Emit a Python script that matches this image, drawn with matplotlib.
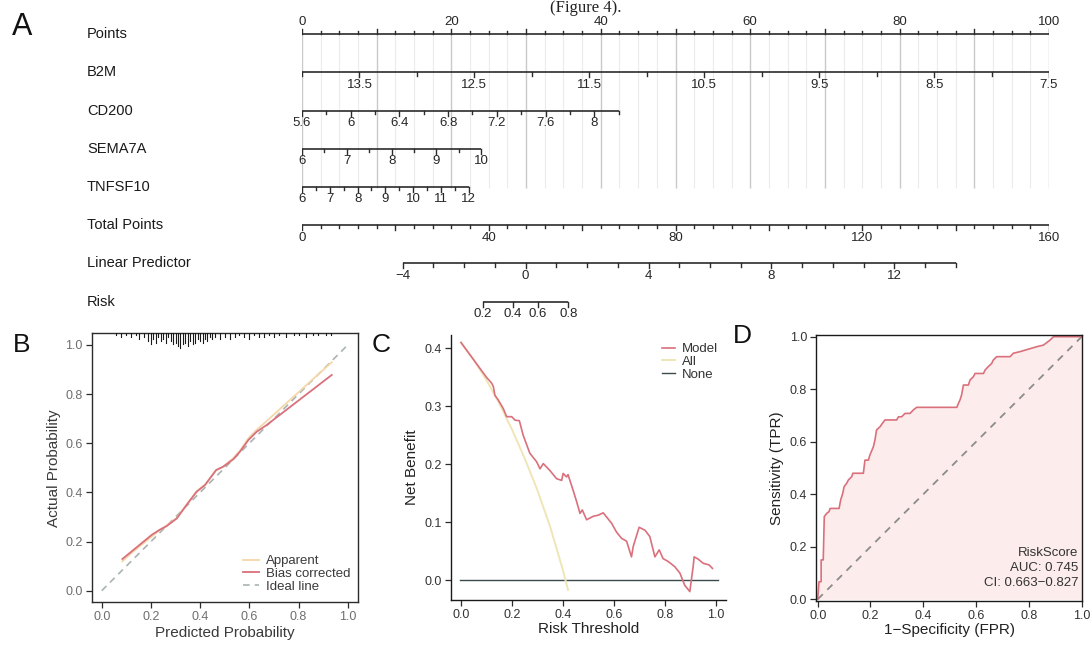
import numpy as np
import matplotlib.pyplot as plt
import matplotlib.transforms as mtransforms

plt.rcParams['font.family'] = ['Liberation Sans', 'DejaVu Sans']

# ---------------- nomogram (A) ----------------
row_names = ['Points', 'B2M', 'CD200', 'SEMA7A', 'TNFSF10',
             'Total Points', 'Linear Predictor', 'Risk']

points_ticks = np.arange(0, 100.01, 2.5)
points_labels = [0, 20, 40, 60, 80, 100]

b2m_ticks = np.arange(14, 7.49, -0.5)
b2m_labels = [13.5, 12.5, 11.5, 10.5, 9.5, 8.5, 7.5]
b2m_ref, b2m_ppu = 14.0, -100 / 6.5

cd200_ticks = np.arange(5.6, 8.21, 0.2)
cd200_labels = [5.6, 6, 6.4, 6.8, 7.2, 7.6, 8]
cd200_ref, cd200_ppu = 5.6, 16.3

sema7a_ticks = np.arange(6, 10.01, 0.5)
sema7a_labels = [6, 7, 8, 9, 10]
sema7a_ref, sema7a_ppu = 6.0, 6.0

tnfsf10_ticks = np.arange(6, 12.01, 0.5)
tnfsf10_labels = [6, 7, 8, 9, 10, 11, 12]
tnfsf10_ref, tnfsf10_ppu = 6.0, 3.72

total_ticks = np.arange(0, 160.01, 4)
total_labels = [0, 40, 80, 120, 160]
total_max = 160

lp_ticks = np.arange(-4, 14.01, 1)
lp_labels = [-4, 0, 4, 8, 12]
lp_tp_at_zero, lp_tp_per_unit = 47.9, 6.58

risk_ticks = [0.2, 0.4, 0.6, 0.8]

# ---------------- calibration (B) ----------------
cal_pred = [0.084, 0.129, 0.203, 0.234, 0.264, 0.305, 0.345, 0.386, 0.42,
            0.465, 0.494, 0.535, 0.562, 0.596, 0.63, 0.67, 0.935]
cal_bias = [0.129, 0.166, 0.227, 0.247, 0.263, 0.294, 0.349, 0.403, 0.43,
            0.491, 0.505, 0.535, 0.566, 0.613, 0.647, 0.674, 0.878]
cal_apparent = [0.12, 0.16, 0.22, 0.245, 0.265, 0.296, 0.35, 0.405, 0.432,
                0.49, 0.505, 0.54, 0.57, 0.62, 0.655, 0.69, 0.93]
rug_x = [0.06, 0.08, 0.10, 0.12, 0.14, 0.15, 0.17, 0.19, 0.20, 0.21, 0.22,
         0.23, 0.24, 0.25, 0.26, 0.27, 0.28, 0.29, 0.30, 0.31, 0.32, 0.33,
         0.34, 0.35, 0.36, 0.37, 0.38, 0.39, 0.40, 0.41, 0.42, 0.43, 0.44,
         0.45, 0.46, 0.48, 0.50, 0.52, 0.54, 0.56, 0.58, 0.60, 0.62, 0.64,
         0.66, 0.68, 0.70, 0.72, 0.75, 0.78, 0.80, 0.83, 0.86, 0.88, 0.91, 0.93]
rug_n = [1, 2, 1, 2, 1, 3, 2, 4, 6, 3, 5, 2, 4, 3, 5, 2, 4, 6, 5, 7, 8, 6,
         5, 7, 4, 6, 5, 3, 4, 5, 3, 4, 2, 3, 2, 3, 2, 3, 2, 1, 2, 3, 1, 2,
         2, 1, 2, 1, 2, 1, 1, 2, 1, 1, 1, 1]

# ---------------- decision curve (C) ----------------
dca_all_t = [0.0, 0.05, 0.1, 0.15, 0.2, 0.25, 0.3, 0.35, 0.4, 0.42]
dca_all_nb = [0.41, 0.38, 0.345, 0.305, 0.26, 0.21, 0.155, 0.092, 0.017, -0.017]
dca_model_t = [0.0, 0.05, 0.1, 0.12, 0.127, 0.133, 0.146, 0.166, 0.179, 0.199,
               0.212, 0.229, 0.244, 0.27, 0.297, 0.31, 0.323, 0.349, 0.375,
               0.395, 0.401, 0.414, 0.42, 0.44, 0.454, 0.467, 0.476, 0.493,
               0.519, 0.539, 0.558, 0.571, 0.591, 0.61, 0.63, 0.65, 0.669,
               0.676, 0.699, 0.722, 0.741, 0.761, 0.778, 0.793, 0.813, 0.839,
               0.859, 0.878, 0.898, 0.911, 0.915, 0.931, 0.95, 0.974, 0.987]
dca_model_nb = [0.41, 0.38, 0.35, 0.34, 0.334, 0.319, 0.311, 0.296, 0.282, 0.282,
                0.276, 0.275, 0.25, 0.219, 0.204, 0.192, 0.201, 0.189, 0.175,
                0.172, 0.184, 0.178, 0.182, 0.155, 0.135, 0.115, 0.121, 0.104,
                0.11, 0.112, 0.116, 0.109, 0.098, 0.083, 0.072, 0.067, 0.04,
                0.058, 0.091, 0.086, 0.075, 0.04, 0.052, 0.037, 0.032, 0.023,
                0.012, -0.009, -0.02, 0.023, 0.04, 0.036, 0.029, 0.026, 0.02]

# ---------------- ROC (D) ----------------
roc_fpr = [0, 0.005, 0.013, 0.013, 0.021, 0.025, 0.034, 0.043, 0.047, 0.081,
           0.087, 0.095, 0.1, 0.11, 0.116, 0.129, 0.133, 0.173, 0.179, 0.192,
           0.198, 0.211, 0.217, 0.223, 0.236, 0.245, 0.255, 0.299, 0.306,
           0.318, 0.331, 0.35, 0.362, 0.375, 0.527, 0.533, 0.539, 0.545,
           0.552, 0.571, 0.577, 0.59, 0.596, 0.628, 0.634, 0.646, 0.659,
           0.665, 0.678, 0.729, 0.741, 0.766, 0.83, 0.855, 0.88, 0.893, 1.0]
roc_tpr = [0, 0.067, 0.067, 0.15, 0.15, 0.315, 0.327, 0.334, 0.346, 0.346,
           0.378, 0.404, 0.429, 0.442, 0.454, 0.467, 0.48, 0.48, 0.53, 0.53,
           0.55, 0.581, 0.607, 0.645, 0.657, 0.67, 0.683, 0.683, 0.695,
           0.695, 0.708, 0.708, 0.721, 0.731, 0.731, 0.746, 0.759, 0.778,
           0.816, 0.816, 0.835, 0.848, 0.86, 0.86, 0.873, 0.886, 0.898,
           0.911, 0.924, 0.924, 0.937, 0.943, 0.962, 0.968, 0.987, 1.0, 1.0]
roc_text = ['RiskScore', 'AUC: 0.745', 'CI: 0.663\u22120.827']

W, H = 1092, 646
fig = plt.figure(figsize=(W / 100, H / 100), dpi=100)

red = '#d9707c'


def fig_rect(left, top, right, bottom):
    return [left / W, 1 - bottom / H, (right - left) / W, (bottom - top) / H]


# --- A ---
ax = fig.add_axes(fig_rect(302, 0, 1049, 330))
ax.set_xlim(0, 100)
ax.set_ylim(330, 0)
ax.axis('off')
lab_tr = mtransforms.blended_transform_factory(fig.transFigure, ax.transData)
row_y = [34.2 + 38.2 * i for i in range(len(row_names))]

# light vertical guide lines
for p in points_ticks:
    major = abs(p % 10) < 1e-6
    ax.plot([p, p], [row_y[0], row_y[4] + 1], color='#c9c9c9' if major else '#ececec',
            lw=1.0 if major else 0.8, zorder=0, solid_capstyle='butt')


def scale_row(i, ticks, labels, to_pts, big=(), up=False):
    y = row_y[i]
    xs = [to_pts(v) for v in ticks]
    ax.plot([min(xs), max(xs)], [y, y], color='#2b2b2b', lw=1.2, zorder=3,
            solid_capstyle='butt')
    sgn = -1 if up else 1
    for v, x in zip(ticks, xs):
        is_lab = any(abs(v - l) < 1e-6 for l in labels) or any(abs(v - b) < 1e-6 for b in big)
        ln = 5 if is_lab else 3.2
        ax.plot([x, x], [y, y + sgn * ln], color='#2b2b2b', lw=1.0, zorder=3)
    for l in labels:
        ax.text(to_pts(l), y + sgn * 12.5, f'{l:g}'.replace('-', '\u2212'),
                ha='center', va='center', fontsize=9.5, color='#262626')
    ax.text(87 / W, y, row_names[i], transform=lab_tr, ha='left', va='center',
            fontsize=10.5, color='#1a1a1a')


def tp_to_x(tp):
    return tp * 100 / total_max


scale_row(0, points_ticks, points_labels, lambda v: v,
          big=np.arange(0, 101, 10), up=True)
scale_row(1, b2m_ticks, b2m_labels, lambda v: (v - b2m_ref) * b2m_ppu)
scale_row(2, cd200_ticks, cd200_labels, lambda v: (v - cd200_ref) * cd200_ppu)
scale_row(3, sema7a_ticks, sema7a_labels, lambda v: (v - sema7a_ref) * sema7a_ppu)
scale_row(4, tnfsf10_ticks, tnfsf10_labels, lambda v: (v - tnfsf10_ref) * tnfsf10_ppu)
scale_row(5, total_ticks, total_labels, tp_to_x, big=np.arange(0, 161, 20))
scale_row(6, lp_ticks, lp_labels,
          lambda v: tp_to_x(lp_tp_at_zero + v * lp_tp_per_unit))
scale_row(7, risk_ticks, risk_ticks,
          lambda r: tp_to_x(lp_tp_at_zero + np.log(r / (1 - r)) * lp_tp_per_unit))


def style_axes(a, tick_color):
    a.tick_params(direction='out', length=4, width=0.9, labelsize=9,
                  colors='#2b2b2b', labelcolor=tick_color, pad=2.5)


# --- B ---
axb = fig.add_axes(fig_rect(91.7, 333.3, 358.3, 602.3))
axb.set_xlim(-0.0407, 1.043)
axb.set_ylim(-0.0472, 1.0476)
l_ideal, = axb.plot([0, 1], [0, 1], color='#aab4b0', lw=1.2, ls=(0, (4, 3)), zorder=1)
l_app, = axb.plot(cal_pred, cal_apparent, color='#f4d7a9', lw=1.3, zorder=2)
l_bias, = axb.plot(cal_pred, cal_bias, color=red, lw=1.3, zorder=3)
top = 1.0476
for x, n in zip(rug_x, rug_n):
    axb.plot([x, x], [top, top - n * 0.0075], color='#1a1a1a', lw=0.8, zorder=4)
axb.set_xticks([0, 0.2, 0.4, 0.6, 0.8, 1.0])
axb.set_yticks([0, 0.2, 0.4, 0.6, 0.8, 1.0])
axb.xaxis.set_major_formatter(lambda v, p: f'{v:.1f}')
axb.yaxis.set_major_formatter(lambda v, p: f'{v:.1f}')
style_axes(axb, '#6e6e6e')
for s in axb.spines.values():
    s.set_color('#2b2b2b')
    s.set_linewidth(1.0)
axb.set_xlabel('Predicted Probability', fontsize=11, color='#3a3a3a', labelpad=2)
axb.set_ylabel('Actual Probability', fontsize=11, color='#3a3a3a', labelpad=3)
axb.legend([l_app, l_bias, l_ideal], ['Apparent', 'Bias corrected', 'Ideal line'],
           loc='lower right', bbox_to_anchor=(0.99, 0.015), frameon=False,
           fontsize=9.5, handlelength=1.2, handletextpad=0.5, labelspacing=0.05,
           borderaxespad=0, labelcolor='#3a3a3a')

# --- C ---
axc = fig.add_axes(fig_rect(450.7, 335, 726, 600))
axc.set_xlim(-0.0404, 1.04)
axc.set_ylim(-0.0345, 0.423)
l_none = axc.axhline(0, xmin=0.035, xmax=0.97, color='#3d4a4a', lw=1.0, zorder=1)
l_all, = axc.plot(dca_all_t, dca_all_nb, color='#efe6b6', lw=1.4, zorder=2)
l_model, = axc.plot(dca_model_t, dca_model_nb, color=red, lw=1.2, zorder=3)
axc.set_xticks([0, 0.2, 0.4, 0.6, 0.8, 1.0])
axc.set_yticks([0, 0.1, 0.2, 0.3, 0.4])
axc.xaxis.set_major_formatter(lambda v, p: f'{v:.1f}')
axc.yaxis.set_major_formatter(lambda v, p: f'{v:.1f}')
style_axes(axc, '#333333')
axc.spines['top'].set_visible(False)
axc.spines['right'].set_visible(False)
for s in ('left', 'bottom'):
    axc.spines[s].set_color('#1a1a1a')
    axc.spines[s].set_linewidth(1.0)
axc.set_xlabel('Risk Threshold', fontsize=11, color='#222222', labelpad=1)
axc.set_ylabel('Net Benefit', fontsize=11, color='#222222', labelpad=4)
axc.legend([l_model, l_all, l_none], ['Model', 'All', 'None'],
           loc='upper right', bbox_to_anchor=(0.99, 0.99), frameon=False,
           fontsize=9.5, handlelength=1.0, handletextpad=0.5, labelspacing=0.05,
           borderaxespad=0, labelcolor='#333333')

# --- D ---
axd = fig.add_axes(fig_rect(816, 335, 1082.3, 600.7))
axd.set_xlim(-0.0064, 1.0023)
axd.set_ylim(-0.0053, 1.0065)
axd.fill_between(roc_fpr, roc_tpr, 0, color='#fcecec', lw=0, zorder=0)
axd.plot([0, 1], [0, 1], color='#8c8c8c', lw=1.3, ls=(0, (4, 3.5)), zorder=1)
axd.plot(roc_fpr, roc_tpr, color=red, lw=1.2, zorder=2)
axd.set_xticks([0, 0.2, 0.4, 0.6, 0.8, 1.0])
axd.set_yticks([0, 0.2, 0.4, 0.6, 0.8, 1.0])
axd.xaxis.set_major_formatter(lambda v, p: f'{v:.1f}')
axd.yaxis.set_major_formatter(lambda v, p: f'{v:.1f}')
style_axes(axd, '#333333')
for s in axd.spines.values():
    s.set_color('#1a1a1a')
    s.set_linewidth(1.0)
axd.set_xlabel('1\u2212Specificity (FPR)', fontsize=11, color='#222222', labelpad=1)
axd.set_ylabel('Sensitivity (TPR)', fontsize=11, color='#222222', labelpad=4)
for k, t in enumerate(roc_text):
    axd.text(0.988, 0.178 - k * 0.057, t, ha='right', va='center',
             fontsize=9.5, color='#333333')

# panel letters
for letter, x, y, size in [('A', 22, 27, 22), ('B', 21.7, 345, 19),
                           ('C', 381, 345, 19), ('D', 742, 336, 19)]:
    fig.text(x / W, 1 - y / H, letter, ha='center', va='center',
             fontsize=size, color='#111111')

fig.text(550 / W, 1 - 0.5 / H, '(Figure 4).', fontsize=12, va='top',
         family='Liberation Serif', color='#222222')

fig.savefig('out.png', dpi=100)
